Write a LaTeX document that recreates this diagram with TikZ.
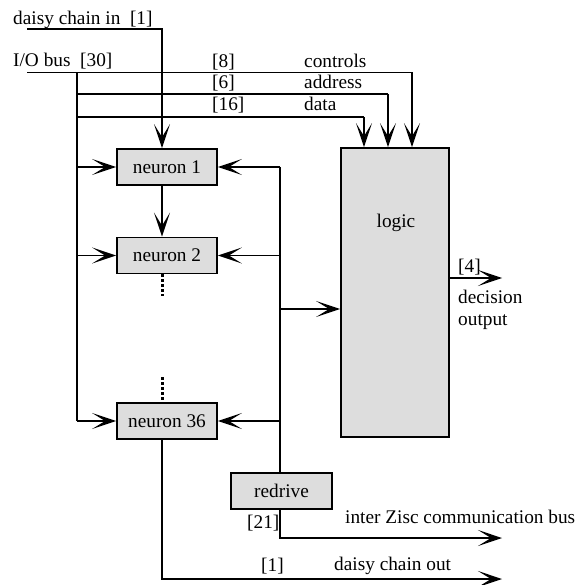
\documentclass[tikz,border=0pt]{standalone}
\usepackage{fontspec}
\setmainfont{Liberation Serif}
\usetikzlibrary{arrows.meta,calc}
\definecolor{boxfill}{RGB}{221,221,221}
\tikzset{
  blk/.style={draw=black, line width=1.8pt, fill=boxfill, rectangle, inner sep=0pt, font=\fontsize{19.3}{22}\selectfont},
  wire/.style={line width=1.8pt},
  arr/.style={line width=1.8pt, -{Stealth[length=24pt,width=16pt,inset=13pt]}},
  lbl/.style={inner sep=0pt, anchor=base west, font=\fontsize{19.3}{22}\selectfont},
  dotline/.style={line width=3pt, dash pattern=on 3pt off 2pt}
}
\begin{document}
\begin{tikzpicture}[x=1pt,y=-1pt]
\useasboundingbox (0,0) rectangle (577,585);
% blocks
\node[blk, minimum width=100pt, minimum height=36pt] (n1) at (167,167) {neuron 1};
\node[blk, minimum width=100pt, minimum height=36pt] (n2) at (167,255.5) {neuron 2};
\node[blk, minimum width=100pt, minimum height=36pt] (n36) at (167,421) {neuron 36};
\node[blk, minimum width=108pt, minimum height=289pt] (logic) at (395,292.5) {};
\node[lbl, anchor=base] (logictxt) at (396,227) {logic};
\node[blk, minimum width=101pt, minimum height=36pt] (redrive) at (281.5,491) {redrive};
% helper coordinates
\coordinate (cx) at (162,0);
\coordinate (lb) at (77,0);
\coordinate (rb) at (280,0);
\coordinate (din) at (27,29);
\coordinate (io) at (27,72.5);
\coordinate (cCtl) at (412,72.5);
\coordinate (cAdr) at (388,94);
\coordinate (cDat) at (364,117);
\coordinate (ioT) at (77,72.5);
\coordinate (adrL) at (77,94);
\coordinate (datL) at (77,117);
\coordinate (brY) at (0,309);
\coordinate (decY) at (0,278);
\coordinate (decE) at (502,278);
\coordinate (icE) at (502,538);
\coordinate (dcE) at (502,579);
\coordinate (d2e) at (162,296);
\coordinate (d36s) at (162,377);
% daisy chain in
\draw[arr] (din) -| (n1.north -| cx);
% I/O bus and controls
\draw[wire] (io) -- (cCtl);
\draw[arr] (cCtl) -- (logic.north -| cCtl);
\draw[wire] (adrL) -- (cAdr);
\draw[arr] (cAdr) -- (logic.north -| cAdr);
\draw[wire] (datL) -- (cDat);
\draw[arr] (cDat) -- (logic.north -| cDat);
% left bus
\draw[wire] (ioT) -- (lb |- n36.west);
\draw[arr] (lb |- n36.west) -- (n36.west);
\draw[arr] (lb |- n1.west) -- (n1.west);
\draw[arr] (lb |- n2.west) -- (n2.west);
% neuron chain
\draw[arr] (n1.south -| cx) -- (n2.north -| cx);
\draw[dotline] (n2.south -| cx) -- (d2e);
\draw[dotline] (d36s) -- (n36.north -| cx);
% right bus
\draw[wire] (rb |- n1.east) -- (redrive.north -| rb);
\draw[arr] (rb |- n1.east) -- (n1.east);
\draw[arr] (rb |- n2.east) -- (n2.east);
\draw[arr] (rb |- n36.east) -- (n36.east);
\draw[arr] (rb |- brY) -- (logic.west |- brY);
% outputs
\draw[arr] (logic.east |- decY) -- (decE);
\draw[arr] (redrive.south -| rb) |- (icE);
\draw[arr] (n36.south -| cx) |- (dcE);
% labels
\node[lbl] (t1) at (13,25) {daisy chain in\ \ [1]};
\node[lbl] (t2) at (13,67) {I/O bus\ \ [30]};
\node[lbl] (t3) at (212,68) {[8]};
\node[lbl] (t4) at (304,68) {controls};
\node[lbl] (t5) at (212,89) {[6]};
\node[lbl] (t6) at (304,89) {address};
\node[lbl] (t7) at (212,111) {[16]};
\node[lbl] (t8) at (304,111) {data};
\node[lbl] (t9) at (458,272) {[4]};
\node[lbl] (t10) at (458,303) {decision};
\node[lbl] (t11) at (458,325) {output};
\node[lbl] (t12) at (247,528) {[21]};
\node[lbl] (t13) at (345,523) {inter Zisc communication bus};
\node[lbl] (t14) at (261,571) {[1]};
\node[lbl] (t15) at (334,570) {daisy chain out};
\end{tikzpicture}
\end{document}
